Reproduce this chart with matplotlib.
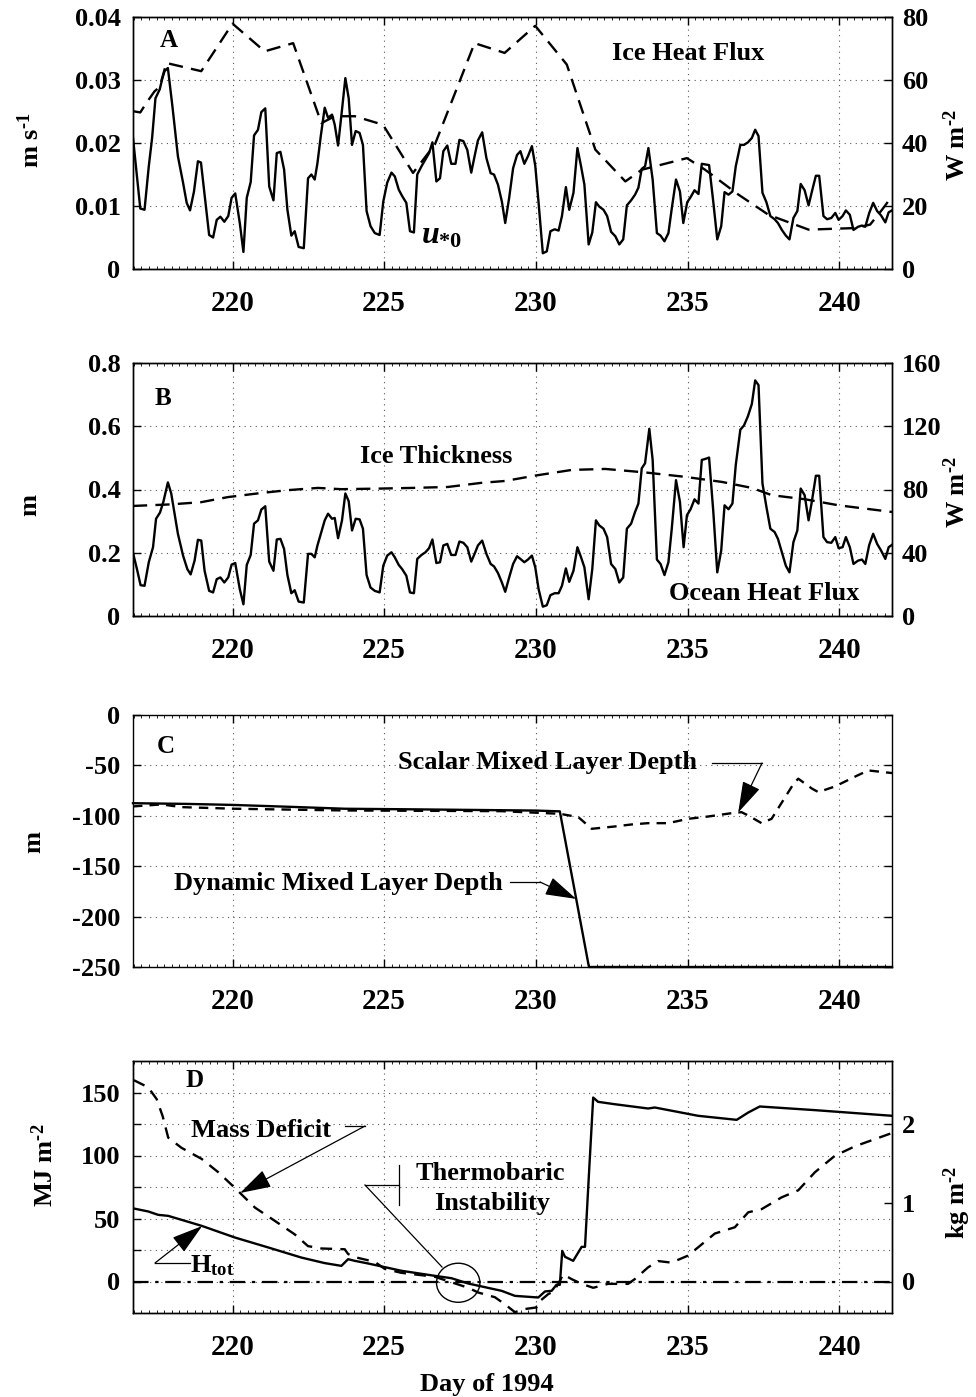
import numpy as np
import matplotlib
matplotlib.use("Agg")
import matplotlib.pyplot as plt
from matplotlib.lines import Line2D
from matplotlib.patches import Ellipse
from matplotlib.ticker import MultipleLocator

plt.rcParams.update({
    "font.family": "Liberation Serif",
    "font.weight": "bold",
    "mathtext.fontset": "custom",
    "mathtext.rm": "Liberation Serif:bold",
    "mathtext.it": "Liberation Serif:italic:bold",
    "mathtext.bf": "Liberation Serif:bold",
    "axes.linewidth": 1.0,
})

# ---- panel A: friction velocity (m/s) and ice heat flux (W/m2) ----
ustar_day = [216.72, 216.96, 217.10, 217.24, 217.35, 217.46, 217.60, 217.69, 217.76, 217.87,
             218.02, 218.20, 218.37, 218.49, 218.60, 218.73, 218.86, 218.96, 219.08, 219.23,
             219.36, 219.48, 219.60, 219.73, 219.86, 219.97, 220.09, 220.24, 220.36, 220.47,
             220.60, 220.71, 220.84, 220.95, 221.08, 221.21, 221.35, 221.46, 221.58, 221.70,
             221.81, 221.94, 222.05, 222.18, 222.35, 222.49, 222.60, 222.71, 222.80, 222.91,
             223.04, 223.15, 223.28, 223.37, 223.48, 223.61, 223.72, 223.83, 223.94, 224.06,
             224.19, 224.30, 224.42, 224.55, 224.69, 224.85, 224.97, 225.10, 225.24, 225.35,
             225.48, 225.59, 225.73, 225.85, 225.98, 226.09, 226.23, 226.36, 226.48, 226.59,
             226.72, 226.84, 226.95, 227.08, 227.21, 227.35, 227.48, 227.61, 227.74, 227.87,
             227.98, 228.09, 228.23, 228.37, 228.51, 228.62, 228.75, 228.88, 228.99, 229.12,
             229.25, 229.38, 229.49, 229.62, 229.74, 229.87, 229.98, 230.09, 230.23, 230.36,
             230.48, 230.62, 230.75, 230.86, 230.99, 231.10, 231.24, 231.37, 231.49, 231.60,
             231.74, 231.86, 231.98, 232.09, 232.23, 232.35, 232.48, 232.62, 232.75, 232.88,
             233.00, 233.14, 233.27, 233.38, 233.49, 233.60, 233.71, 233.85, 233.99, 234.11,
             234.24, 234.37, 234.48, 234.62, 234.75, 234.86, 234.99, 235.10, 235.23, 235.36,
             235.47, 235.58, 235.71, 235.85, 235.98, 236.11, 236.22, 236.35, 236.48, 236.59,
             236.74, 236.86, 236.99, 237.12, 237.23, 237.34, 237.47, 237.60, 237.73, 237.87,
             237.98, 238.11, 238.24, 238.36, 238.49, 238.62, 238.73, 238.86, 238.99, 239.10,
             239.23, 239.34, 239.48, 239.60, 239.74, 239.87, 239.98, 240.11, 240.22, 240.35,
             240.47, 240.62, 240.75, 240.86, 240.99, 241.12, 241.25, 241.38, 241.52, 241.63,
             241.74]
ustar = [0.0208, 0.0096, 0.0094, 0.0163, 0.0208, 0.0271, 0.0285, 0.0303, 0.0314, 0.0319,
         0.0258, 0.0179, 0.0137, 0.0105, 0.0093, 0.0123, 0.0171, 0.0169, 0.0118, 0.0054,
         0.0050, 0.0078, 0.0083, 0.0075, 0.0084, 0.0113, 0.0120, 0.0073, 0.0027, 0.0113,
         0.0138, 0.0212, 0.0221, 0.0249, 0.0255, 0.0131, 0.0109, 0.0184, 0.0186, 0.0158,
         0.0094, 0.0053, 0.0060, 0.0035, 0.0033, 0.0144, 0.0150, 0.0142, 0.0168, 0.0211,
         0.0256, 0.0240, 0.0245, 0.0229, 0.0196, 0.0253, 0.0303, 0.0271, 0.0197, 0.0219,
         0.0216, 0.0197, 0.0092, 0.0068, 0.0057, 0.0054, 0.0107, 0.0137, 0.0153, 0.0147,
         0.0126, 0.0116, 0.0105, 0.0060, 0.0058, 0.0150, 0.0163, 0.0174, 0.0184, 0.0201,
         0.0139, 0.0144, 0.0187, 0.0196, 0.0167, 0.0167, 0.0205, 0.0203, 0.0189, 0.0153,
         0.0179, 0.0204, 0.0217, 0.0176, 0.0152, 0.0150, 0.0134, 0.0107, 0.0073, 0.0113,
         0.0160, 0.0181, 0.0187, 0.0167, 0.0179, 0.0195, 0.0164, 0.0105, 0.0025, 0.0028,
         0.0060, 0.0063, 0.0061, 0.0084, 0.0130, 0.0094, 0.0121, 0.0192, 0.0163, 0.0134,
         0.0039, 0.0058, 0.0106, 0.0099, 0.0094, 0.0084, 0.0059, 0.0052, 0.0039, 0.0047,
         0.0101, 0.0109, 0.0118, 0.0129, 0.0159, 0.0163, 0.0192, 0.0142, 0.0057, 0.0053,
         0.0044, 0.0057, 0.0096, 0.0142, 0.0123, 0.0073, 0.0106, 0.0114, 0.0125, 0.0119,
         0.0167, 0.0166, 0.0165, 0.0106, 0.0047, 0.0068, 0.0122, 0.0118, 0.0123, 0.0163,
         0.0197, 0.0197, 0.0201, 0.0208, 0.0221, 0.0211, 0.0121, 0.0106, 0.0084, 0.0079,
         0.0073, 0.0062, 0.0053, 0.0047, 0.0081, 0.0092, 0.0135, 0.0125, 0.0101, 0.0123,
         0.0148, 0.0148, 0.0084, 0.0079, 0.0081, 0.0089, 0.0078, 0.0084, 0.0093, 0.0086,
         0.0062, 0.0067, 0.0069, 0.0067, 0.0089, 0.0105, 0.0092, 0.0085, 0.0074, 0.0090,
         0.0093]

iceflux_day = [216.72, 216.96, 217.16, 217.43, 217.60, 217.82, 218.97, 220.00, 221.06, 222.00,
               222.93, 223.37, 224.03, 224.96, 225.95, 226.67, 227.98, 228.97, 229.98, 231.02,
               231.96, 232.95, 233.49, 234.98, 235.58, 236.68, 237.67, 238.99, 240.53, 241.02,
               241.41, 241.74]
iceflux = [50.1, 49.7, 52.7, 56.4, 57.8, 65.4, 62.8, 77.9, 69.1, 71.7,
           46.3, 48.5, 48.5, 45.8, 30.5, 39.5, 71.7, 68.6, 77.2, 64.9,
           37.9, 27.8, 31.5, 35.2, 31.5, 23.6, 17.2, 12.5, 13.0, 14.1,
           18.8, 23.1]

# ---- panel B: ice thickness (m) and ocean heat flux (W/m2) ----
thick_day = [216.72, 217.98, 218.97, 219.85, 220.95, 221.83, 222.82, 223.59, 224.91, 225.90,
             227.10, 228.20, 228.99, 229.98, 231.19, 232.29, 233.60, 234.92, 236.13, 237.12,
             237.78, 238.88, 239.98, 241.74]
thick = [0.348, 0.353, 0.360, 0.376, 0.389, 0.398, 0.405, 0.401, 0.403, 0.405,
         0.408, 0.421, 0.427, 0.444, 0.462, 0.465, 0.454, 0.440, 0.424, 0.405,
         0.382, 0.369, 0.350, 0.329]

ocean_day = [216.72, 216.85, 216.97, 217.10, 217.24, 217.38, 217.48, 217.61, 217.72, 217.87,
             217.98, 218.20, 218.37, 218.51, 218.62, 218.75, 218.86, 218.97, 219.08, 219.23,
             219.36, 219.48, 219.60, 219.73, 219.86, 219.97, 220.09, 220.24, 220.36, 220.47,
             220.60, 220.71, 220.84, 220.95, 221.08, 221.21, 221.35, 221.46, 221.58, 221.70,
             221.81, 221.94, 222.05, 222.18, 222.35, 222.49, 222.60, 222.71, 222.80, 222.91,
             223.04, 223.15, 223.28, 223.37, 223.48, 223.61, 223.72, 223.83, 223.94, 224.06,
             224.19, 224.30, 224.42, 224.55, 224.69, 224.85, 224.97, 225.10, 225.24, 225.35,
             225.48, 225.59, 225.73, 225.85, 225.98, 226.09, 226.23, 226.36, 226.48, 226.59,
             226.72, 226.84, 226.95, 227.08, 227.21, 227.35, 227.48, 227.61, 227.74, 227.87,
             227.98, 228.09, 228.23, 228.37, 228.51, 228.62, 228.75, 228.88, 228.99, 229.12,
             229.25, 229.38, 229.49, 229.62, 229.74, 229.87, 229.98, 230.09, 230.23, 230.36,
             230.48, 230.62, 230.75, 230.86, 230.99, 231.10, 231.24, 231.37, 231.49, 231.60,
             231.74, 231.86, 231.98, 232.09, 232.23, 232.35, 232.48, 232.62, 232.75, 232.88,
             233.00, 233.14, 233.27, 233.38, 233.49, 233.60, 233.74, 233.85, 233.99, 234.11,
             234.24, 234.37, 234.48, 234.62, 234.75, 234.87, 234.98, 235.10, 235.23, 235.36,
             235.47, 235.58, 235.71, 235.85, 235.98, 236.11, 236.22, 236.35, 236.48, 236.59,
             236.74, 236.86, 236.99, 237.12, 237.23, 237.34, 237.47, 237.60, 237.73, 237.87,
             237.98, 238.11, 238.24, 238.36, 238.49, 238.62, 238.73, 238.86, 238.99, 239.10,
             239.23, 239.34, 239.48, 239.60, 239.74, 239.87, 239.98, 240.11, 240.22, 240.35,
             240.47, 240.62, 240.75, 240.86, 240.99, 241.12, 241.25, 241.38, 241.52, 241.63,
             241.74]
ocean = [39.9, 29.7, 19.5, 19.1, 34.0, 43.5, 61.5, 65.4, 72.1, 84.5,
         77.5, 52.0, 38.2, 29.7, 26.3, 35.0, 48.2, 47.7, 28.6, 15.9,
         14.9, 23.3, 24.4, 21.2, 24.4, 32.5, 33.5, 17.0, 7.4, 32.3,
         38.6, 58.4, 60.5, 67.3, 69.4, 34.4, 28.6, 48.4, 48.8, 42.4,
         25.9, 14.4, 16.3, 9.1, 8.5, 39.3, 39.3, 37.1, 44.6, 52.0,
         60.5, 64.7, 61.5, 62.0, 49.2, 60.5, 77.5, 72.6, 54.1, 61.5,
         61.1, 55.2, 25.9, 18.0, 15.9, 14.9, 31.8, 38.2, 40.3, 37.1,
         32.3, 29.7, 25.5, 14.9, 14.4, 36.1, 38.6, 40.3, 42.9, 48.4,
         33.5, 34.0, 44.6, 45.6, 38.6, 38.6, 47.1, 46.3, 43.5, 34.4,
         39.3, 44.6, 47.7, 39.3, 32.9, 31.4, 27.2, 21.2, 15.3, 24.4,
         32.9, 37.8, 36.1, 34.0, 35.7, 38.2, 30.8, 17.0, 5.9, 6.8,
         13.2, 14.4, 14.4, 19.1, 30.1, 21.6, 28.6, 43.5, 37.1, 30.8,
         10.6, 29.7, 60.5, 57.3, 55.2, 49.9, 32.9, 29.7, 21.2, 24.4,
         55.2, 58.4, 65.8, 71.1, 93.4, 96.6, 118.4, 98.7, 35.7, 32.9,
         25.9, 34.0, 55.2, 85.9, 72.1, 43.5, 63.7, 67.5, 73.8, 71.1,
         98.7, 99.3, 100.2, 65.8, 27.6, 41.4, 70.0, 67.5, 71.1, 95.5,
         117.8, 120.5, 126.3, 134.1, 149.0, 146.0, 83.8, 69.0, 55.2, 53.1,
         48.8, 40.3, 31.8, 27.6, 46.7, 54.1, 80.6, 76.4, 60.5, 72.6,
         88.7, 88.7, 49.9, 46.7, 46.3, 49.9, 42.9, 43.5, 49.9, 43.5,
         32.9, 35.0, 35.7, 32.9, 45.0, 52.0, 45.6, 41.4, 36.1, 43.5,
         45.0]

# ---- panel C: mixed layer depths (m) ----
dyn_day = [216.72, 218.5, 220.0, 222.0, 223.7, 226.0, 228.0, 230.0, 230.79, 231.75, 241.74]
dyn_mld = [-87.5, -88.2, -89.2, -91.2, -93.0, -93.6, -94.2, -94.8, -95.6, -250.0, -250.0]

scal_day = [216.72, 217.66, 218.32, 220.08, 223.70, 228.87, 230.79, 231.40, 231.84, 232.60,
            233.15, 233.70, 234.36, 235.02, 235.68, 236.45, 236.78, 237.00, 237.44, 237.77,
            238.50, 238.65, 239.10, 239.31, 239.86, 240.60, 240.96, 241.74]
scal_mld = [-90.7, -88.7, -91.4, -93.0, -94.7, -95.4, -98.0, -101.3, -112.9, -110.6,
            -108.6, -107.3, -107.3, -103.0, -100.7, -97.4, -96.4, -99.7, -107.3, -103.0,
            -68.0, -63.2, -73.0, -76.5, -70.9, -60.0, -55.0, -57.6]

# ---- panel D: total heat content (MJ/m2) and mass deficit (kg/m2) ----
htot_day = [216.75, 217.22, 217.55, 217.88, 218.98, 220.08, 221.18, 222.27, 223.04, 223.59,
            223.81, 224.03, 224.47, 225.57, 226.67, 227.22, 227.77, 228.87, 229.31, 230.08,
            230.30, 230.52, 230.68, 230.79, 230.87, 230.96, 231.23, 231.51, 231.62, 231.75,
            231.89, 232.05, 232.60, 233.70, 233.92, 235.35, 236.62, 237.00, 237.38, 239.20,
            241.75]
htot = [57.9, 55.6, 52.9, 52.1, 44.2, 34.9, 27.0, 19.0, 14.6, 12.4,
        17.7, 16.4, 14.3, 8.5, 4.5, 2.6, -1.6, -7.4, -11.4, -12.7,
        -7.9, -7.4, -2.6, -2.6, 24.3, 19.6, 16.4, 27.5, 27.5, 85.2,
        146.0, 142.6, 140.7, 137.3, 138.1, 131.5, 128.3, 134.1, 138.9, 136.0,
        131.5]

mdef_day = [216.75, 217.22, 217.50, 217.70, 217.88, 218.32, 218.98, 219.53, 220.08, 220.74,
            221.40, 222.05, 222.49, 222.93, 223.70, 223.81, 224.03, 224.69, 225.02, 225.57,
            226.67, 227.77, 228.10, 228.65, 228.98, 229.31, 229.64, 230.02, 230.13, 230.41,
            230.57, 230.74, 230.90, 231.18, 231.51, 231.89, 232.38, 233.04, 233.26, 233.70,
            234.03, 234.47, 235.02, 235.46, 235.90, 236.56, 237.00, 237.44, 238.10, 238.65,
            239.20, 239.86, 240.52, 241.75]
mdef = [2.56, 2.47, 2.32, 2.10, 1.83, 1.70, 1.56, 1.39, 1.19, 0.94,
        0.77, 0.60, 0.45, 0.42, 0.41, 0.35, 0.31, 0.25, 0.16, 0.11,
        0.06, -0.08, -0.14, -0.20, -0.29, -0.39, -0.35, -0.33, -0.25, -0.16,
        -0.13, -0.03, 0.09, 0.03, -0.03, -0.08, -0.03, -0.03, 0.03, 0.18,
        0.26, 0.24, 0.33, 0.47, 0.61, 0.69, 0.88, 0.92, 1.07, 1.16,
        1.39, 1.60, 1.72, 1.89]

x_ticks = [220, 225, 230, 235, 240]
x_lim = (216.72, 241.74)

W, H = 976, 1397
fig = plt.figure(figsize=(W / 100, H / 100), dpi=100)


def fpt(px, py):
    """pixel position (from top-left) -> figure fraction"""
    return px / W, 1 - py / H


def add_panel(top, bottom):
    return fig.add_axes([133 / W, 1 - bottom / H, (892 - 133) / W, (bottom - top) / H])


GRID = dict(ls=(0, (1, 4)), lw=0.8, color="0.35")
SOLID = dict(color="k", lw=1.7)
DASH = dict(color="k", lw=1.7, ls=(0, (6, 3.5)))
XSIZE, YSIZE = 21, 19


def style(ax, ylim, yticks, ylabels):
    ax.set_xlim(*x_lim)
    ax.set_ylim(*ylim)
    ax.set_xticks(x_ticks)
    ax.xaxis.set_minor_locator(MultipleLocator(0.25))
    ax.set_yticks(yticks)
    ax.set_yticklabels(ylabels)
    ax.tick_params(which="major", direction="in", length=6, width=1, top=True)
    ax.tick_params(which="minor", direction="in", length=2.5, width=0.6, top=True)
    ax.tick_params(axis="x", labelsize=XSIZE, pad=15)
    ax.tick_params(axis="y", labelsize=YSIZE, pad=9)
    ax.grid(True, which="major", **GRID)


def style_right(ax, ylim, yticks, ylabels):
    ax.set_ylim(*ylim)
    ax.set_yticks(yticks)
    ax.set_yticklabels(ylabels)
    ax.tick_params(axis="y", direction="in", length=6, width=1, labelsize=YSIZE, pad=7)


def ftext(px, py, s, **kw):
    kw.setdefault("fontsize", 19)
    kw.setdefault("fontweight", "bold")
    fig.text(*fpt(px, py), s, **kw)


def fline(xs, ys, lw=0.9):
    pts = [fpt(x, y) for x, y in zip(xs, ys)]
    fig.add_artist(Line2D([p[0] for p in pts], [p[1] for p in pts],
                          transform=fig.transFigure, color="k", lw=lw))


ARROW = dict(arrowstyle="-|>,head_length=1.4,head_width=0.42", mutation_scale=14,
             lw=0.9, color="k", shrinkA=0, shrinkB=0)


def arrow_to(ax, day, series_day, series, start_px):
    tip = (day, np.interp(day, series_day, series))
    ax.annotate("", xy=tip, xycoords="data", xytext=fpt(*start_px),
                textcoords="figure fraction", arrowprops=ARROW)


# superscript units with a plain hyphen
PER_M2 = r"m$^{\text{-}2}$"

# ---------------- A ----------------
axA = add_panel(17, 269)
style(axA, (0, 0.04), [0, 0.01, 0.02, 0.03, 0.04], ["0", "0.01", "0.02", "0.03", "0.04"])
axA.plot(ustar_day, ustar, **SOLID)
axA_r = axA.twinx()
style_right(axA_r, (0, 80), [0, 20, 40, 60, 80], ["0", "20", "40", "60", "80"])
axA_r.plot(iceflux_day, iceflux, **DASH)
ftext(160, 47, "A", fontsize=18)
ftext(688, 60, "Ice Heat Flux", ha="center", va="baseline")
ftext(421, 243, "$u_{*0}$", fontsize=23, va="baseline")
ftext(31, 140, r"m s$^{\text{-}1}$", rotation=90, ha="center", va="center")
ftext(957, 145, "W " + PER_M2, rotation=90, ha="center", va="center")

# ---------------- B ----------------
axB = add_panel(363, 616)
style(axB, (0, 0.8), [0, 0.2, 0.4, 0.6, 0.8], ["0", "0.2", "0.4", "0.6", "0.8"])
axB.plot(thick_day, thick, **DASH)
axB_r = axB.twinx()
style_right(axB_r, (0, 160), [0, 40, 80, 120, 160], ["0", "40", "80", "120", "160"])
axB_r.plot(ocean_day, ocean, **SOLID)
ftext(155, 405, "B", fontsize=18)
ftext(436, 463, "Ice Thickness", ha="center", va="baseline")
ftext(764, 600, "Ocean Heat Flux", ha="center", va="baseline")
ftext(30, 505, "m", rotation=90, ha="center", va="center")
ftext(957, 492, "W " + PER_M2, rotation=90, ha="center", va="center")

# ---------------- C ----------------
axC = add_panel(715, 967)
style(axC, (-250, 0), [-250, -200, -150, -100, -50, 0],
      ["-250", "-200", "-150", "-100", "-50", "0"])
axC.tick_params(axis="y", right=True)
axC.plot(dyn_day, dyn_mld, clip_on=False, **SOLID)
axC.plot(scal_day, scal_mld, color="k", lw=1.7, ls=(0, (4, 3)))
ftext(157, 753, "C", fontsize=18)
ftext(548, 769, "Scalar Mixed Layer Depth", ha="center", va="baseline")
fline([712, 762], [763, 763])
arrow_to(axC, 236.67, scal_day, scal_mld, (762, 763))
ftext(338, 890, "Dynamic Mixed Layer Depth", ha="center", va="baseline")
fline([510, 540], [882, 882])
arrow_to(axC, 231.33, dyn_day, dyn_mld, (540, 882))
ftext(34, 842, "m", rotation=90, ha="center", va="center")

# ---------------- D ----------------
axD = add_panel(1061, 1313)
style(axD, (-25, 175), [0, 25, 50, 75, 100, 125, 150],
      ["0", "", "50", "", "100", "", "150"])
axD.plot(htot_day, htot, **SOLID)
axD.axhline(0, color="k", lw=1.6, ls=(0, (7, 3, 1.5, 3)))
axD_r = axD.twinx()
style_right(axD_r, (-25 / 62.4, 175 / 62.4), [0, 1, 2], ["0", "1", "2"])
axD_r.plot(mdef_day, mdef, color="k", lw=1.7, ls=(0, (5, 3.5)))
ftext(185, 1087, "D", fontsize=18)

ftext(261, 1137, "Mass Deficit", ha="center", va="baseline")
fline([345, 365], [1126, 1126])
arrow_to(axD_r, 220.25, mdef_day, mdef, (365, 1126))

ftext(190, 1272, r"H$_{\rm tot}$", va="baseline")
fline([155, 190], [1263, 1263])
arrow_to(axD, 219.0, htot_day, htot, (155, 1263))

ftext(490, 1180, "Thermobaric", ha="center", va="baseline")
ftext(492, 1210, "Instability", ha="center", va="baseline")
fline([399, 399], [1165, 1205])
fline([365, 399], [1185, 1185])
fline([365, 442], [1185, 1267])
axD.add_patch(Ellipse((227.44, -1), width=1.43, height=31, fill=False, color="k", lw=1.0))

ftext(45, 1165, "MJ " + PER_M2, rotation=90, ha="center", va="center")
ftext(957, 1202, "kg " + PER_M2, rotation=90, ha="center", va="center")
ftext(487, 1391, "Day of 1994", ha="center", va="baseline")

fig.savefig("out.png", dpi=100)
